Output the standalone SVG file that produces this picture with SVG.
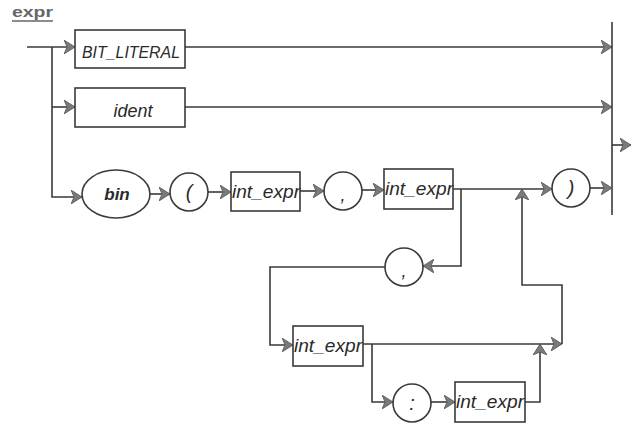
<svg xmlns="http://www.w3.org/2000/svg" width="633" height="427" viewBox="0 0 633 427">
<defs>
<marker id="ah" markerUnits="userSpaceOnUse" viewBox="0 0 11 14" refX="11" refY="7" markerWidth="11" markerHeight="14" orient="auto">
<path d="M0,0 L11,7 L0,14 L3,7 Z" fill="#7a7a7a" stroke="#555" stroke-width="0.8"/>
</marker>
</defs>
<style>
.box{fill:#fff;stroke:#3a3a3a;stroke-width:1.6}
.c{fill:none;stroke:#3a3a3a;stroke-width:1.6}
.ln{fill:none;stroke:#3a3a3a;stroke-width:1.6;marker-end:url(#ah)}
.pl{fill:none;stroke:#3a3a3a;stroke-width:1.6}
.t{font-family:"Liberation Sans",Arial,sans-serif;font-style:italic;fill:#2a2a2a}
</style>
<rect width="633" height="427" fill="#fff"/>
<text x="12" y="17" font-family="Liberation Sans, Arial, sans-serif" font-size="15" font-weight="bold" fill="#666" textLength="41" lengthAdjust="spacingAndGlyphs">expr</text>
<line x1="12" y1="21" x2="53" y2="21" stroke="#666" stroke-width="1.3"/>

<g id="connectors">
<path class="ln" d="M27,47 H75"/>
<path class="pl" d="M52,47 V107"/>
<path class="ln" d="M52,107 H75"/>
<path class="ln" d="M52,107 V197 H82"/>
<path class="ln" d="M185,47 H612"/>
<path class="ln" d="M185,107 H612"/>
<path class="pl" d="M612,22 V215"/>
<path class="ln" d="M612,145 H631"/>
<path class="ln" d="M150,194 H170"/>
<path class="ln" d="M208,192 H231"/>
<path class="ln" d="M300,191 H324"/>
<path class="ln" d="M362,190 H384"/>
<path class="ln" d="M453,189 H552"/>
<path class="ln" d="M590,188 H612"/>
<path class="ln" d="M461,189 V266 H423"/>
<path class="ln" d="M385,267 H270 V345 H293"/>
<path class="ln" d="M363,344 H562"/>
<path class="ln" d="M562,344 V285 H522 V189"/>
<path class="ln" d="M372,344 V402 H393"/>
<path class="ln" d="M431,402 H455"/>
<path class="ln" d="M525,402 H540 V344"/>
</g>

<g id="n_bit_literal">
<rect class="box" x="75" y="30" width="110" height="38"/>
<text class="t" x="82" y="58" font-size="16" textLength="98" lengthAdjust="spacingAndGlyphs">BIT_LITERAL</text>
</g>
<g id="n_ident">
<rect class="box" x="75" y="88" width="110" height="39"/>
<text class="t" x="133" y="117" font-size="18" text-anchor="middle">ident</text>
</g>
<g id="n_bin">
<ellipse class="c" cx="116" cy="194" rx="34" ry="24"/>
<text x="117" y="200" font-family="Liberation Sans, Arial, sans-serif" font-style="italic" font-weight="bold" font-size="17" fill="#2a2a2a" text-anchor="middle">bin</text>
</g>
<g id="n_lparen">
<circle class="c" cx="189" cy="192" r="19"/>
<text class="t" x="189" y="199" font-size="20" text-anchor="middle">(</text>
</g>
<g id="n_int_expr1">
<rect class="box" x="231" y="172" width="69" height="39"/>
<text class="t" x="232" y="198" font-size="18" textLength="68" lengthAdjust="spacingAndGlyphs">int_expr</text>
</g>
<g id="n_comma1">
<circle class="c" cx="343" cy="191" r="19"/>
<text class="t" x="343" y="201" font-size="18" text-anchor="middle">,</text>
</g>
<g id="n_int_expr2">
<rect class="box" x="384" y="169" width="69" height="40"/>
<text class="t" x="385" y="195" font-size="18" textLength="68" lengthAdjust="spacingAndGlyphs">int_expr</text>
</g>
<g id="n_rparen">
<circle class="c" cx="571" cy="188" r="19"/>
<text class="t" x="571" y="195" font-size="20" text-anchor="middle">)</text>
</g>
<g id="n_comma2">
<circle class="c" cx="404" cy="267" r="19"/>
<text class="t" x="404" y="277" font-size="18" text-anchor="middle">,</text>
</g>
<g id="n_int_expr3">
<rect class="box" x="293" y="326" width="70" height="40"/>
<text class="t" x="294" y="352" font-size="18" textLength="68" lengthAdjust="spacingAndGlyphs">int_expr</text>
</g>
<g id="n_colon">
<circle class="c" cx="412" cy="403" r="19"/>
<text class="t" x="412" y="410" font-size="20" text-anchor="middle">:</text>
</g>
<g id="n_int_expr4">
<rect class="box" x="455" y="382" width="70" height="40"/>
<text class="t" x="456" y="408" font-size="18" textLength="68" lengthAdjust="spacingAndGlyphs">int_expr</text>
</g>
</svg>
